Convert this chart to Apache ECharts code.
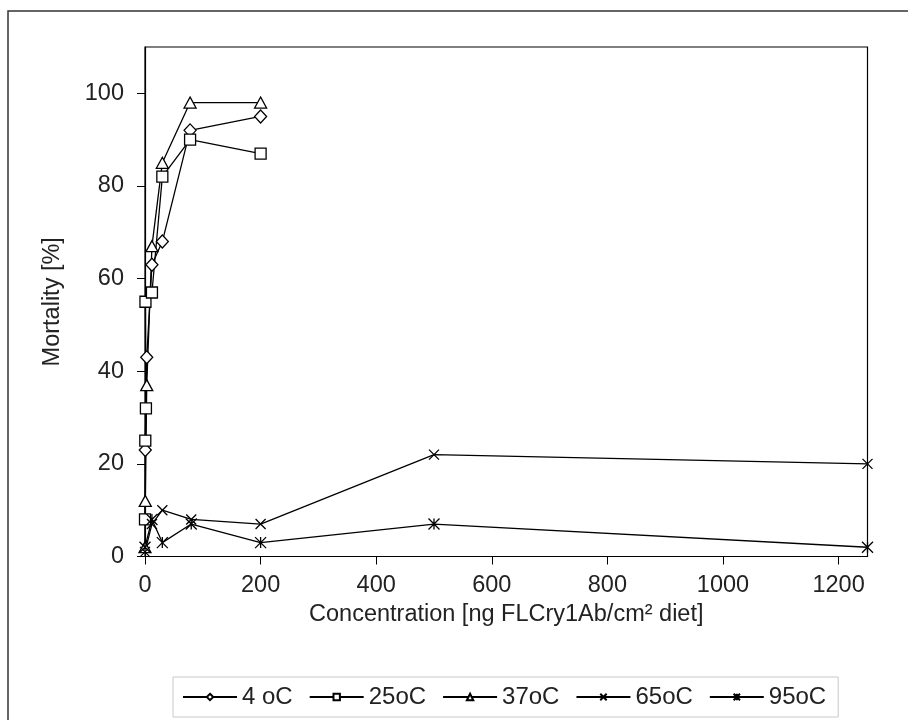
<!DOCTYPE html>
<html>
<head>
<meta charset="utf-8">
<script src="https://cdn.jsdelivr.net/npm/echarts@6/dist/echarts.min.js"></script>
<style>
  html, body { margin: 0; padding: 0; background: #fff; }
  #chart { width: 908px; height: 720px; }
</style>
</head>
<body>
<div id="chart"></div>
<script>
// series names as in the legend
const seriesNames = ['4 oC', '25oC', '37oC', '65oC', '95oC'];

// concentration (x) and mortality (y)
const x4 = [0.5, 3, 12, 30, 78, 200];
const y4 = [23, 43, 63, 68, 92, 95];

const x25 = [0, 0.5, 1.6, 0.8, 12, 30, 78, 200];
const y25 = [8, 25, 32, 55, 57, 82, 90, 87];

const x37 = [0, 0.5, 3, 12, 30, 78, 200];
const y37 = [2, 12, 37, 67, 85, 98, 98];

const x65 = [0, 12, 30, 80, 200, 500, 1250];
const y65 = [1, 7, 10, 8, 7, 22, 20];

const x95 = [0, 12, 30, 80, 200, 500, 1250];
const y95 = [2, 8, 3, 7, 3, 7, 2];

const xTicks = [0, 200, 400, 600, 800, 1000, 1200];
const yTicks = [0, 20, 40, 60, 80, 100];

const pairs = (xs, ys) => xs.map((v, i) => [v, ys[i]]);

const crossPath = 'path://M0,0L10,10M10,0L0,10';
const starPath = 'path://M0,0L10,10M10,0L0,10M5,0L5,10';

function makeSeries(name, data, symbol, size) {
  return {
    name: name,
    type: 'line',
    data: data,
    symbol: symbol,
    symbolSize: size,
    showAllSymbol: true,
    lineStyle: { color: '#000', width: 1.3 },
    itemStyle: { color: '#fff', borderColor: '#000', borderWidth: 1.3 },
    emphasis: { disabled: true },
    animation: false
  };
}

const chart = echarts.init(document.getElementById('chart'));
const textColor = '#222';
const font = 'Liberation Sans, Arial, sans-serif';

chart.setOption({
  graphic: [{
    type: 'rect',
    shape: { x: 8, y: 11, width: 920, height: 740 },
    style: { fill: 'none', stroke: '#333', lineWidth: 1.5 },
    silent: true
  }],
  grid: {
    left: 145, top: 47, right: 40.5, bottom: 163.5,
    show: true, borderColor: '#000', borderWidth: 1.2
  },
  legend: {
    data: seriesNames,
    left: 173, top: 677,
    padding: [8, 12, 8, 9],
    itemWidth: 54, itemHeight: 8, itemGap: 16,
    borderColor: '#c8c8c8', borderWidth: 1,
    textStyle: { fontSize: 24, color: textColor, fontFamily: font }
  },
  xAxis: {
    type: 'value',
    min: 0, max: 1250,
    name: 'Concentration [ng FLCry1Ab/cm² diet]',
    nameLocation: 'middle',
    nameGap: 38,
    nameTextStyle: { fontSize: 23.5, color: textColor, fontFamily: font },
    axisLine: { lineStyle: { color: '#000', width: 1.2 } },
    axisTick: { inside: false, length: 8, customValues: xTicks, lineStyle: { color: '#000' } },
    axisLabel: {
      customValues: xTicks, margin: 17, fontSize: 23.5, color: textColor, fontFamily: font,
      formatter: v => String(v)
    },
    splitLine: { show: false }
  },
  yAxis: {
    type: 'value',
    min: 0, max: 110,
    name: 'Mortality [%]',
    nameLocation: 'middle',
    nameGap: 80,
    nameTextStyle: { fontSize: 23.5, color: textColor, fontFamily: font },
    axisLine: { show: true, lineStyle: { color: '#000', width: 1.2 } },
    axisTick: { show: true, inside: false, length: 8, customValues: yTicks, lineStyle: { color: '#000' } },
    axisLabel: { customValues: yTicks, margin: 21, fontSize: 23.5, color: textColor, fontFamily: font },
    splitLine: { show: false }
  },
  series: [
    makeSeries(seriesNames[0], pairs(x4, y4), 'diamond', [12, 13]),
    makeSeries(seriesNames[1], pairs(x25, y25), 'rect', 11),
    makeSeries(seriesNames[2], pairs(x37, y37), 'triangle', [12, 11]),
    makeSeries(seriesNames[3], pairs(x65, y65), crossPath, 10),
    makeSeries(seriesNames[4], pairs(x95, y95), starPath, 11)
  ]
});
</script>
</body>
</html>
